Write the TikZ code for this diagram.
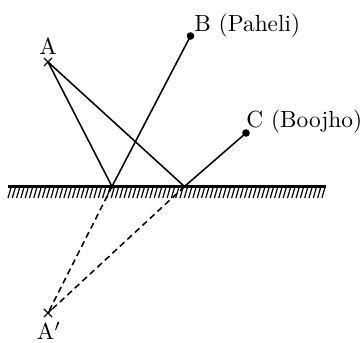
\documentclass[tikz,border=0pt]{standalone}
\usetikzlibrary{calc}
\begin{document}
\begin{tikzpicture}[x=0.42pt,y=-0.42pt,
  ray/.style={line width=0.65pt},
  virt/.style={line width=0.65pt,dash pattern=on 2.6pt off 1.7pt},
  lbl/.style={inner sep=0pt,font=\fontsize{9.8}{12}\selectfont},
  crossmark/.style={line width=0.55pt},
  dotmark/.style={fill=black,draw=none}]
\useasboundingbox (0,0) rectangle (363,343);
% points
\coordinate (A) at (48,62);
\coordinate (B) at (190.5,36);
\coordinate (C) at (246,133);
\coordinate (P) at (112,186.5);
\coordinate (Q) at (184.5,186.5);
\coordinate (Ai) at (48,313);
\coordinate (ML) at (8,186.5);
\coordinate (MR) at (326,186.5);
% mirror
\draw[line width=0.9pt] (ML) -- (MR);
\foreach \x in {8,12.3,...,322} \draw[line width=0.5pt] (\x,198) -- (\x+3.2,187);
% rays
\draw[ray] (A) -- (P) -- (B);
\draw[ray] (A) -- (Q) -- (C);
\draw[virt] (P) -- (Ai);
\draw[virt] (Q) -- (Ai);
% marks
\draw[crossmark] ($(A)+(-4,-4)$) -- ($(A)+(4,4)$) ($(A)+(-4,4)$) -- ($(A)+(4,-4)$);
\draw[crossmark] ($(Ai)+(-4,-4)$) -- ($(Ai)+(4,4)$) ($(Ai)+(-4,4)$) -- ($(Ai)+(4,-4)$);
\fill[dotmark] (B) circle (1.6pt);
\fill[dotmark] (C) circle (1.6pt);
\fill[dotmark] (P) circle (0.9pt);
% labels
\node[lbl] (lA) at (48,46) {A};
\node[lbl,anchor=base west] (lB) at (194,31.5) {B (Paheli)};
\node[lbl,anchor=base west] (lC) at (246,128) {C (Boojho)};
\node[lbl] (lAi) at (49,331) {A$'$};
\end{tikzpicture}
\end{document}
